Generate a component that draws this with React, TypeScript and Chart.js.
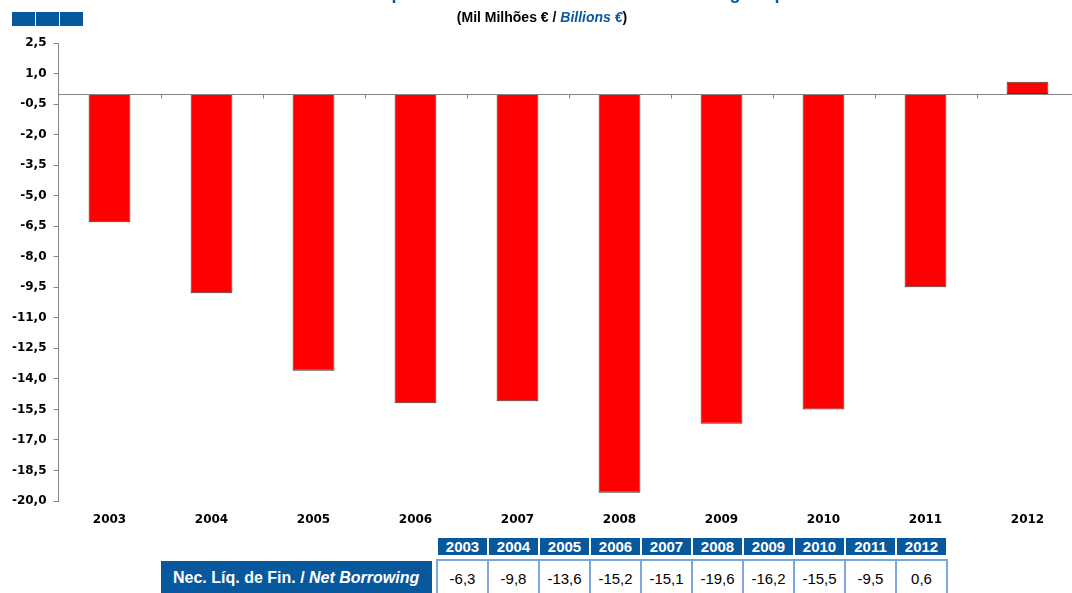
import React, { useEffect, useRef } from "react";
import { Chart, registerables } from "chart.js";

Chart.register(...registerables);

const years = ["2003", "2004", "2005", "2006", "2007", "2008", "2009", "2010", "2011", "2012"];
const netBorrowing = [-6.3, -9.8, -13.6, -15.2, -15.1, -19.6, -16.2, -15.5, -9.5, 0.6];
const yMin = -20;
const yMax = 2.5;
const yStep = 1.5;
const titleText = "Necessidades Líquidas de Financiamento / Net Borrowing Requirements";
const subtitlePt = "(Mil Milhões € / ";
const subtitleEn = "Billions €";
const rowLabelPt = "Nec. Líq. de Fin. / ";
const rowLabelEn = "Net Borrowing";

const BLUE = "#07589C";
const LIGHT_BLUE = "#7EA6DF";
const AXIS_GREY = "#868686";

const fmt = (v: number) => v.toFixed(1).replace(".", ",");

const zeroLinePlugin = {
  id: "zeroLine",
  afterDatasetsDraw(chart: any) {
    const { ctx, chartArea, scales } = chart;
    const x = scales.x;
    const y = scales.y;
    const y0 = Math.round(y.getPixelForValue(0)) + 0.5;
    const step = x.width / years.length;
    ctx.save();
    ctx.strokeStyle = AXIS_GREY;
    ctx.lineWidth = 1;
    ctx.beginPath();
    ctx.moveTo(chartArea.left, y0);
    ctx.lineTo(chartArea.right, y0);
    for (let i = 1; i <= years.length; i++) {
      const bx = Math.round(x.getPixelForValue(i - 1) + step / 2) + 0.5;
      ctx.moveTo(bx, y0);
      ctx.lineTo(bx, y0 + 4);
    }
    ctx.stroke();
    ctx.restore();
  },
};

function BarChart() {
  const ref = useRef<HTMLCanvasElement>(null);
  useEffect(() => {
    if (!ref.current) return;
    const chart = new Chart(ref.current, {
      type: "bar",
      data: {
        labels: years,
        datasets: [
          {
            data: netBorrowing,
            backgroundColor: "#FF0000",
            borderColor: "#3C3C3C",
            borderWidth: 1,
            borderSkipped: false,
            barPercentage: 0.41,
            categoryPercentage: 1,
          },
        ],
      },
      options: {
        responsive: false,
        animation: false,
        layout: { padding: { top: 43, right: 6.5, left: 0, bottom: 0 } },
        plugins: { legend: { display: false }, tooltip: { enabled: false }, title: { display: false } },
        scales: {
          x: {
            offset: true,
            grid: { display: false },
            border: { display: false },
            ticks: {
              color: "#000",
              padding: 4,
              maxRotation: 0,
              font: { family: "DejaVu Sans", weight: "bold", size: 12 },
            },
            afterFit: (s: any) => {
              s.height = 30;
            },
          },
          y: {
            min: yMin,
            max: yMax,
            ticks: {
              stepSize: yStep,
              color: "#000",
              padding: 7,
              font: { family: "DejaVu Sans", weight: "bold", size: 12 },
              callback: (v: any) => fmt(Number(v)),
            },
            grid: { drawOnChartArea: false, drawTicks: true, tickLength: 5, color: AXIS_GREY },
            border: { color: AXIS_GREY, width: 1 },
            afterFit: (s: any) => {
              s.width = 58.5;
            },
          },
        },
      },
      plugins: [zeroLinePlugin],
    });
    return () => chart.destroy();
  }, []);
  return (
    <canvas
      ref={ref}
      width={1085}
      height={531}
      style={{ position: "absolute", left: 0, top: 0, width: 1085, height: 531 }}
    />
  );
}

export default function App() {
  const font = "'Liberation Sans', Arial, sans-serif";
  return (
    <div
      style={{
        position: "fixed",
        left: 0,
        top: 0,
        width: 1072,
        height: 593,
        overflow: "hidden",
        background: "#fff",
        fontFamily: font,
      }}
    >
      <BarChart />
      <div
        style={{
          position: "absolute",
          left: 0,
          top: -16,
          width: 1110,
          textAlign: "center",
          color: BLUE,
          fontWeight: "bold",
          fontSize: 18,
          lineHeight: "18px",
          whiteSpace: "nowrap",
        }}
      >
        {titleText}
      </div>
      {[0, 1, 2].map((i) => (
        <div
          key={i}
          style={{ position: "absolute", left: 12 + i * 24, top: 12, width: 23, height: 14, background: BLUE }}
        />
      ))}
      <div
        style={{
          position: "absolute",
          left: 0,
          top: 9,
          width: 1084,
          textAlign: "center",
          fontWeight: "bold",
          fontSize: 14,
          lineHeight: "16px",
          color: "#000",
          whiteSpace: "nowrap",
        }}
      >
        {subtitlePt}
        <span style={{ color: BLUE, fontStyle: "italic" }}>{subtitleEn}</span>)
      </div>
      <div
        style={{
          position: "absolute",
          left: 437,
          top: 538,
          width: 510,
          height: 17,
          display: "flex",
        }}
      >
        {years.map((y) => (
          <div
            key={y}
            style={{
              flex: 1,
              margin: "0 1px",
              background: BLUE,
              color: "#fff",
              fontWeight: "bold",
              fontSize: 15,
              lineHeight: "17px",
              textAlign: "center",
            }}
          >
            {y}
          </div>
        ))}
      </div>
      <div
        style={{
          position: "absolute",
          left: 161,
          top: 561,
          width: 271,
          height: 40,
          background: BLUE,
          color: "#fff",
          fontWeight: "bold",
          fontSize: 16,
          lineHeight: "34px",
          paddingLeft: 12,
          boxSizing: "border-box",
          whiteSpace: "nowrap",
        }}
      >
        {rowLabelPt}
        <span style={{ fontStyle: "italic" }}>{rowLabelEn}</span>
      </div>
      <div
        style={{
          position: "absolute",
          left: 436,
          top: 559,
          width: 512,
          height: 40,
          border: `2px solid ${LIGHT_BLUE}`,
          boxSizing: "border-box",
          display: "flex",
        }}
      >
        {netBorrowing.map((v, i) => (
          <div
            key={years[i]}
            style={{
              flex: 1,
              borderLeft: i === 0 ? "none" : `2px solid ${LIGHT_BLUE}`,
              fontSize: 15,
              lineHeight: "36px",
              textAlign: "center",
              color: "#000",
            }}
          >
            {fmt(v)}
          </div>
        ))}
      </div>
    </div>
  );
}
